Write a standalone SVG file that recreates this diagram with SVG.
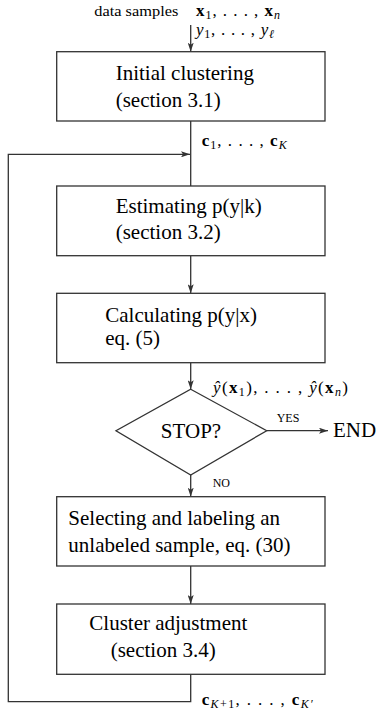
<svg xmlns="http://www.w3.org/2000/svg" width="382" height="713" viewBox="0 0 382 713">
<defs>
<style>
.box{fill:#fff;stroke:#333;stroke-width:1.3}
.ln{fill:none;stroke:#333;stroke-width:1.3}
.t{font-family:"Liberation Serif","Times New Roman",serif;font-size:21px;fill:#000}
.s{font-family:"Liberation Serif","Times New Roman",serif;font-size:12px;fill:#000}
.m{font-family:"Liberation Serif","Times New Roman",serif;font-size:17px;fill:#000}
.b{font-weight:bold}
.i{font-style:italic}
.sub{font-size:12px}
</style>
<marker id="ah" markerUnits="userSpaceOnUse" markerWidth="10" markerHeight="6" refX="9" refY="3" orient="auto">
<path d="M0,0 L9,3 L0,6 L2,3 z" fill="#333"/>
</marker>
</defs>
<rect width="382" height="713" fill="#fff"/>

<g id="connectors">
<line class="ln" x1="190.7" y1="25" x2="190.7" y2="51.7" marker-end="url(#ah)"/>
<line class="ln" x1="190.7" y1="121" x2="190.7" y2="186"/>
<polyline class="ln" points="190.7,674.3 190.7,701.7 8.3,701.7 8.3,154.3 190,154.3" marker-end="url(#ah)"/>
<line class="ln" x1="190.7" y1="255.7" x2="190.7" y2="293.3" marker-end="url(#ah)"/>
<line class="ln" x1="190.7" y1="362.7" x2="190.7" y2="389.3" marker-end="url(#ah)"/>
<line class="ln" x1="266.7" y1="430.7" x2="328" y2="430.7" marker-end="url(#ah)"/>
<line class="ln" x1="190.7" y1="475" x2="190.7" y2="496.7" marker-end="url(#ah)"/>
<line class="ln" x1="190.7" y1="566" x2="190.7" y2="604" marker-end="url(#ah)"/>
</g>

<g id="input">
<text class="t" x="94.3" y="16" style="font-size:15px" textLength="84" lengthAdjust="spacingAndGlyphs">data samples</text>
<text class="m" x="196" y="16" textLength="84" lengthAdjust="spacing"><tspan class="b">x</tspan><tspan class="sub" dy="3">1</tspan><tspan dy="-3">, . . . , </tspan><tspan class="b">x</tspan><tspan class="sub i" dy="3">n</tspan></text>
<text class="m" x="196" y="35" textLength="78" lengthAdjust="spacing"><tspan class="i">y</tspan><tspan class="sub" dy="3">1</tspan><tspan dy="-3">, . . . , </tspan><tspan class="i">y</tspan><tspan class="sub i" dy="3">ℓ</tspan></text>
</g>

<g id="initial-clustering">
<rect class="box" x="56.7" y="51.7" width="268.3" height="69.3"/>
<text class="t" x="115.7" y="80">Initial clustering</text>
<text class="t" x="115.7" y="106.7">(section 3.1)</text>
</g>

<g id="label-c1">
<text class="m" x="201.7" y="146" textLength="85" lengthAdjust="spacing"><tspan class="b">c</tspan><tspan class="sub" dy="3">1</tspan><tspan dy="-3">, . . . , </tspan><tspan class="b">c</tspan><tspan class="sub i" dy="3">K</tspan></text>
</g>

<g id="estimating">
<rect class="box" x="56.7" y="186" width="268.3" height="69.7"/>
<text class="t" x="115.7" y="212.7">Estimating p(y|k)</text>
<text class="t" x="115.7" y="239">(section 3.2)</text>
</g>

<g id="calculating">
<rect class="box" x="56.7" y="293.3" width="268.3" height="69.4"/>
<text class="t" x="105.3" y="321.7">Calculating p(y|x)</text>
<text class="t" x="105.3" y="345">eq. (5)</text>
</g>

<g id="label-yhat">
<text class="m" x="213" y="393" textLength="135" lengthAdjust="spacing"><tspan class="i">ŷ</tspan>(<tspan class="b">x</tspan><tspan class="sub" dy="3">1</tspan><tspan dy="-3">), . . . , </tspan><tspan class="i">ŷ</tspan>(<tspan class="b">x</tspan><tspan class="sub i" dy="3">n</tspan><tspan dy="-3">)</tspan></text>
</g>

<g id="stop">
<polygon class="box" points="190.7,389.3 266.7,430.7 190.7,475 116,430.7"/>
<text class="t" x="191" y="438" text-anchor="middle">STOP?</text>
<text class="s" x="276.7" y="421.7">YES</text>
<text class="s" x="212.7" y="486.7">NO</text>
</g>

<g id="end">
<text class="t" x="333" y="437">END</text>
</g>

<g id="selecting">
<rect class="box" x="56.7" y="496.7" width="268.3" height="69.3"/>
<text class="t" x="68.3" y="525">Selecting and labeling an</text>
<text class="t" x="68.3" y="551.7">unlabeled sample, eq. (30)</text>
</g>

<g id="cluster-adjustment">
<rect class="box" x="56.7" y="604" width="268.3" height="70.3"/>
<text class="t" x="89.3" y="630">Cluster adjustment</text>
<text class="t" x="110.7" y="656.7">(section 3.4)</text>
</g>

<g id="label-cK">
<text class="m" x="201.7" y="705" textLength="111" lengthAdjust="spacing"><tspan class="b">c</tspan><tspan class="sub i" dy="3">K</tspan><tspan class="sub" dy="0">+1</tspan><tspan dy="-3">, . . . , </tspan><tspan class="b">c</tspan><tspan class="sub i" dy="3">K′</tspan></text>
</g>
</svg>
